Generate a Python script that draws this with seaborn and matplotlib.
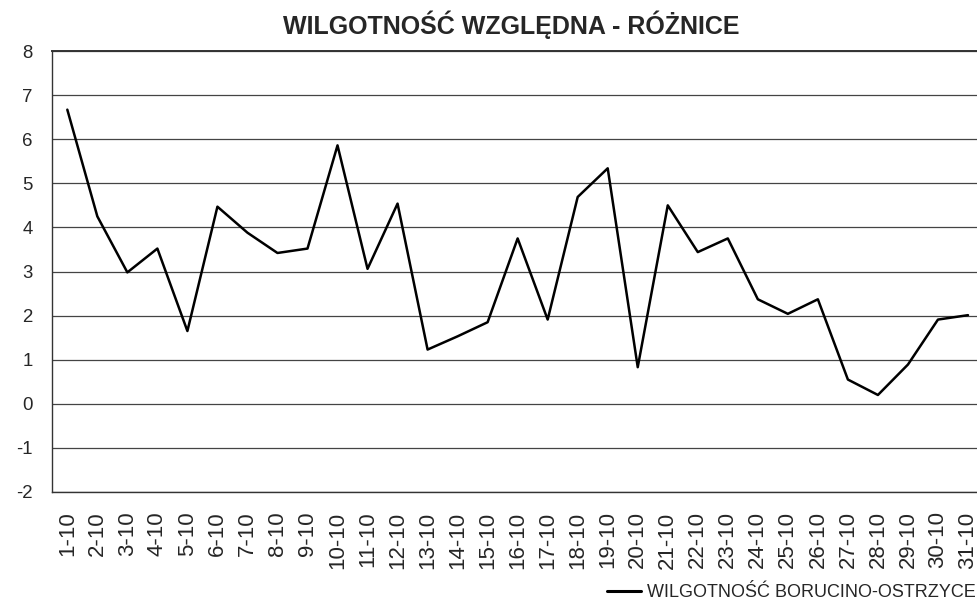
import numpy as np
import pandas as pd
import matplotlib
matplotlib.use("Agg")
import matplotlib.pyplot as plt
import seaborn as sns

days = [f"{d}-10" for d in range(1, 32)]
values = [6.67, 4.25, 2.98, 3.52, 1.65, 4.47, 3.88, 3.42, 3.52, 5.86,
          3.06, 4.54, 1.23, 1.53, 1.85, 3.75, 1.91, 4.69, 5.34, 0.83,
          4.50, 3.44, 3.75, 2.37, 2.04, 2.37, 0.55, 0.20, 0.89, 1.91, 2.01]
title = "WILGOTNOŚĆ WZGLĘDNA - RÓŻNICE"
series_name = "WILGOTNOŚĆ BORUCINO-OSTRZYCE"
y_ticks = list(range(-2, 9))

sns.set_theme(style="white")
plt.rcParams['font.family'] = ['Liberation Sans', 'DejaVu Sans']

W, H = 978, 602
fig = plt.figure(figsize=(W / 100, H / 100), dpi=100)
left, right, top, bottom = 52.3, 983.0, 51.0, 492.0
ax = fig.add_axes([left / W, 1 - bottom / H, (right - left) / W, (bottom - top) / H])

df = pd.DataFrame({"day": days, "val": values})
sns.lineplot(data=df, x="day", y="val", ax=ax, color="black", linewidth=1.8,
             label=series_name, sort=False)

ax.set_xlim(-0.5, len(days) - 0.5)
ax.set_ylim(-2, 8)
ax.set_yticks(y_ticks)
ax.set_yticklabels([str(t) for t in y_ticks], fontsize=13.4)
ax.set_xticks(range(len(days)))
ax.set_xticklabels(days, rotation=90, fontsize=16)
ax.set_xticks(np.arange(-0.5, len(days), 1.0), minor=True)
ax.tick_params(axis='x', which='major', length=0, pad=14)
ax.tick_params(axis='x', which='minor', length=5.5, width=0.9, color='#333333', direction='out')
ax.tick_params(axis='y', which='major', length=5.5, width=0.9, color='#333333', direction='out', pad=8.5)
ax.grid(axis='y', color='#444444', linewidth=0.9)
ax.grid(axis='x', visible=False)
ax.set_xlabel("")
ax.set_ylabel("")
for s in ['left', 'bottom', 'top']:
    ax.spines[s].set_color('#333333')
    ax.spines[s].set_linewidth(1.0)
ax.spines['top'].set_linewidth(1.4)
ax.spines['right'].set_visible(False)

fig.text(511 / W, 1 - 34 / H, title, ha='center', va='baseline', fontsize=18, fontweight='bold')

leg = ax.legend(loc='lower right', bbox_to_anchor=(978 / W, -1 / H), bbox_transform=fig.transFigure,
                frameon=False, fontsize=13, handlelength=1.9, handletextpad=0.35,
                borderpad=0.1, borderaxespad=0)
for ln in leg.get_lines():
    ln.set_linewidth(2.2)

fig.savefig("out.png", dpi=100)
